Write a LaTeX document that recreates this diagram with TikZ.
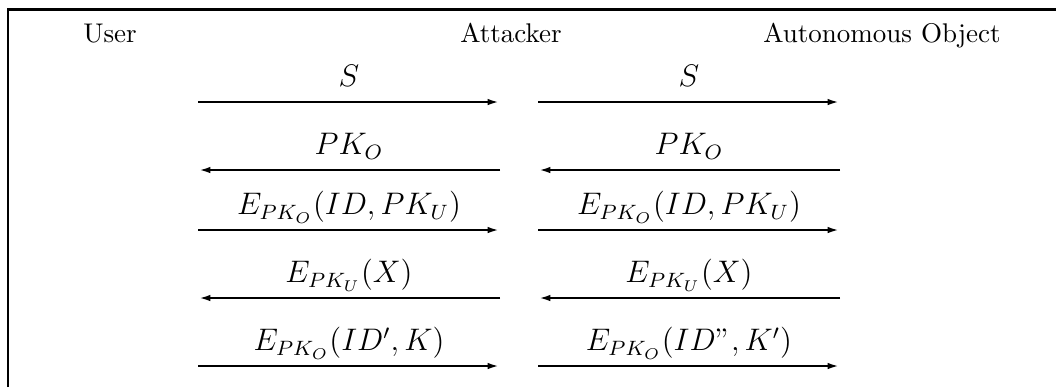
\documentclass[tikz,border=0pt]{standalone}
\usetikzlibrary{arrows.meta}
\begin{document}
\begin{tikzpicture}[x=0.385pt,y=-0.385pt,
  frameline/.style={line width=1.15pt},
  msg/.style={line width=1.05pt,-{Latex[length=4.8pt,width=2.5pt]}},
  party/.style={anchor=base,font=\fontsize{10.4}{12.5}\selectfont},
  msglabel/.style={pos=0.5,anchor=base,yshift=5.8pt,font=\large}]
\useasboundingbox (0,0) rectangle (1056,387);
% partial frame
\coordinate (fbl) at (8,387);
\coordinate (ftl) at (8,9.5);
\coordinate (ftr) at (1056,9.5);
\draw[frameline] (fbl) -- (ftl) -- (ftr);
% parties
\node[party] (user) at (110,42) {User};
\node[party] (att) at (511,42) {Attacker};
\node[party] (obj) at (882,42) {Autonomous Object};
% message end points: user side, attacker left/right, object side
\foreach \i/\y in {1/102,2/170,3/230,4/298,5/366}{
  \coordinate (u\i) at (198,\y);
  \coordinate (al\i) at (500,\y);
  \coordinate (ar\i) at (538,\y);
  \coordinate (o\i) at (840,\y);
}
% messages
\draw[msg] (u1) -- (al1) node[msglabel] (m1l) {$S$};
\draw[msg] (ar1) -- (o1) node[msglabel] (m1r) {$S$};
\draw[msg] (al2) -- (u2) node[msglabel] (m2l) {$PK_O$};
\draw[msg] (o2) -- (ar2) node[msglabel] (m2r) {$PK_O$};
\draw[msg] (u3) -- (al3) node[msglabel] (m3l) {$E_{PK_O}(ID,PK_U)$};
\draw[msg] (ar3) -- (o3) node[msglabel] (m3r) {$E_{PK_O}(ID,PK_U)$};
\draw[msg] (al4) -- (u4) node[msglabel] (m4l) {$E_{PK_U}(X)$};
\draw[msg] (o4) -- (ar4) node[msglabel] (m4r) {$E_{PK_U}(X)$};
\draw[msg] (u5) -- (al5) node[msglabel] (m5l) {$E_{PK_O}(ID',K)$};
\draw[msg] (ar5) -- (o5) node[msglabel] (m5r) {$E_{PK_O}(ID",K')$};
\end{tikzpicture}
\end{document}
